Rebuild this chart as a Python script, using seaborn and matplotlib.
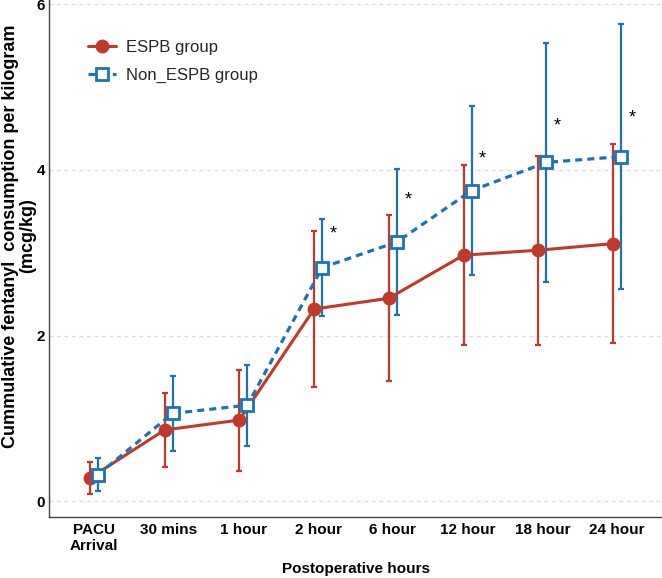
import matplotlib
matplotlib.use("Agg")
import matplotlib.pyplot as plt
import seaborn as sns
import pandas as pd
import numpy as np
from matplotlib.lines import Line2D

# data
timepoints = ["PACU\nArrival", "30 mins", "1 hour", "2 hour", "6 hour", "12 hour", "18 hour", "24 hour"]
espb_mean = [0.28, 0.86, 0.98, 2.32, 2.45, 2.97, 3.03, 3.11]
espb_sd = [0.19, 0.45, 0.61, 0.94, 1.00, 1.09, 1.14, 1.20]
non_espb_mean = [0.32, 1.06, 1.16, 2.82, 3.13, 3.75, 4.09, 4.16]
non_espb_sd = [0.20, 0.45, 0.49, 0.59, 0.88, 1.02, 1.44, 1.60]
star_idx = [3, 4, 5, 6, 7]
star_y = [3.22, 3.64, 4.13, 4.53, 4.63]

RED = "#C0392B"
BLUE = "#1A73B5"

sns.set_theme(style="white")
plt.rcParams["font.family"] = ["Liberation Sans", "DejaVu Sans"]

pos = np.arange(len(timepoints))
dodge = 0.054
df = pd.DataFrame({
    "x": np.concatenate([pos - dodge, pos + dodge]),
    "y": espb_mean + non_espb_mean,
    "sd": espb_sd + non_espb_sd,
    "group": ["ESPB group"] * len(pos) + ["Non_ESPB group"] * len(pos),
})

fig = plt.figure(figsize=(6.62, 5.78), dpi=100)
ax = fig.add_axes([49 / 662, 61 / 578, 613 / 662, 517 / 578])

for y in [0, 2, 4, 6]:
    ax.axhline(y, color="#DADADA", lw=0.9, ls=(0, (3, 3)), zorder=0)

styles = {"ESPB group": RED, "Non_ESPB group": BLUE}
for g, sub in df.groupby("group"):
    ax.errorbar(sub["x"], sub["y"], yerr=sub["sd"], fmt="none", ecolor=styles[g],
                elinewidth=1.6, capsize=2.5, capthick=1.6, zorder=2)

sns.lineplot(data=df[df.group == "ESPB group"], x="x", y="y", ax=ax, color=RED,
             lw=2.2, marker="o", markersize=10, markeredgewidth=0, sort=False, zorder=4)
sns.lineplot(data=df[df.group == "Non_ESPB group"], x="x", y="y", ax=ax, color=BLUE,
             lw=2.3, linestyle=(0, (2.2, 1.6)), marker="s", markersize=9,
             markerfacecolor="white", markeredgecolor=BLUE, markeredgewidth=2,
             sort=False, zorder=5)

for i, yy in zip(star_idx, star_y):
    ax.text(pos[i] + 0.2, yy, "*", ha="center", va="center", fontsize=13, color="black")

ax.set_xlim(-0.6, 7.6)
ax.set_ylim(-0.19, 6.05)
ax.set_xticks(pos)
ax.set_xticklabels(timepoints, fontweight="bold", fontsize=11, color="black")
ax.set_yticks([0, 2, 4, 6])
ax.set_yticklabels(["0", "2", "4", "6"], fontweight="bold", fontsize=11, color="black")
ax.tick_params(axis="both", length=0, pad=4)
ax.tick_params(axis="y", pad=3)
ax.set_xlabel("Postoperative hours", fontweight="bold", fontsize=11, color="black", labelpad=7)
ax.set_ylabel("Cummulative fentanyl  consumption per kilogram\n(mcg/kg)", fontweight="bold",
              fontsize=13, color="black", linespacing=1.0)
ax.yaxis.set_label_coords(-13 / 613, (517 - 236) / 517)
for s in ["top", "right"]:
    ax.spines[s].set_visible(False)
for s in ["left", "bottom"]:
    ax.spines[s].set_color("#444444")
    ax.spines[s].set_linewidth(1.0)

handles = [
    Line2D([], [], color=RED, lw=2.2, marker="o", markersize=10, markeredgewidth=0),
    Line2D([], [], color=BLUE, lw=2.3, ls=(0, (2.2, 1.6)), marker="s", markersize=9,
           markerfacecolor="white", markeredgecolor=BLUE, markeredgewidth=2),
]
ax.legend(handles, ["ESPB group", "Non_ESPB group"], loc="upper left",
          bbox_to_anchor=(88 / 662, 1 - 40 / 578), bbox_transform=fig.transFigure,
          frameon=False, fontsize=12, handlelength=1.7, handletextpad=0.55,
          labelspacing=0.8, borderaxespad=0, borderpad=0)

fig.savefig("out.png", dpi=100)
